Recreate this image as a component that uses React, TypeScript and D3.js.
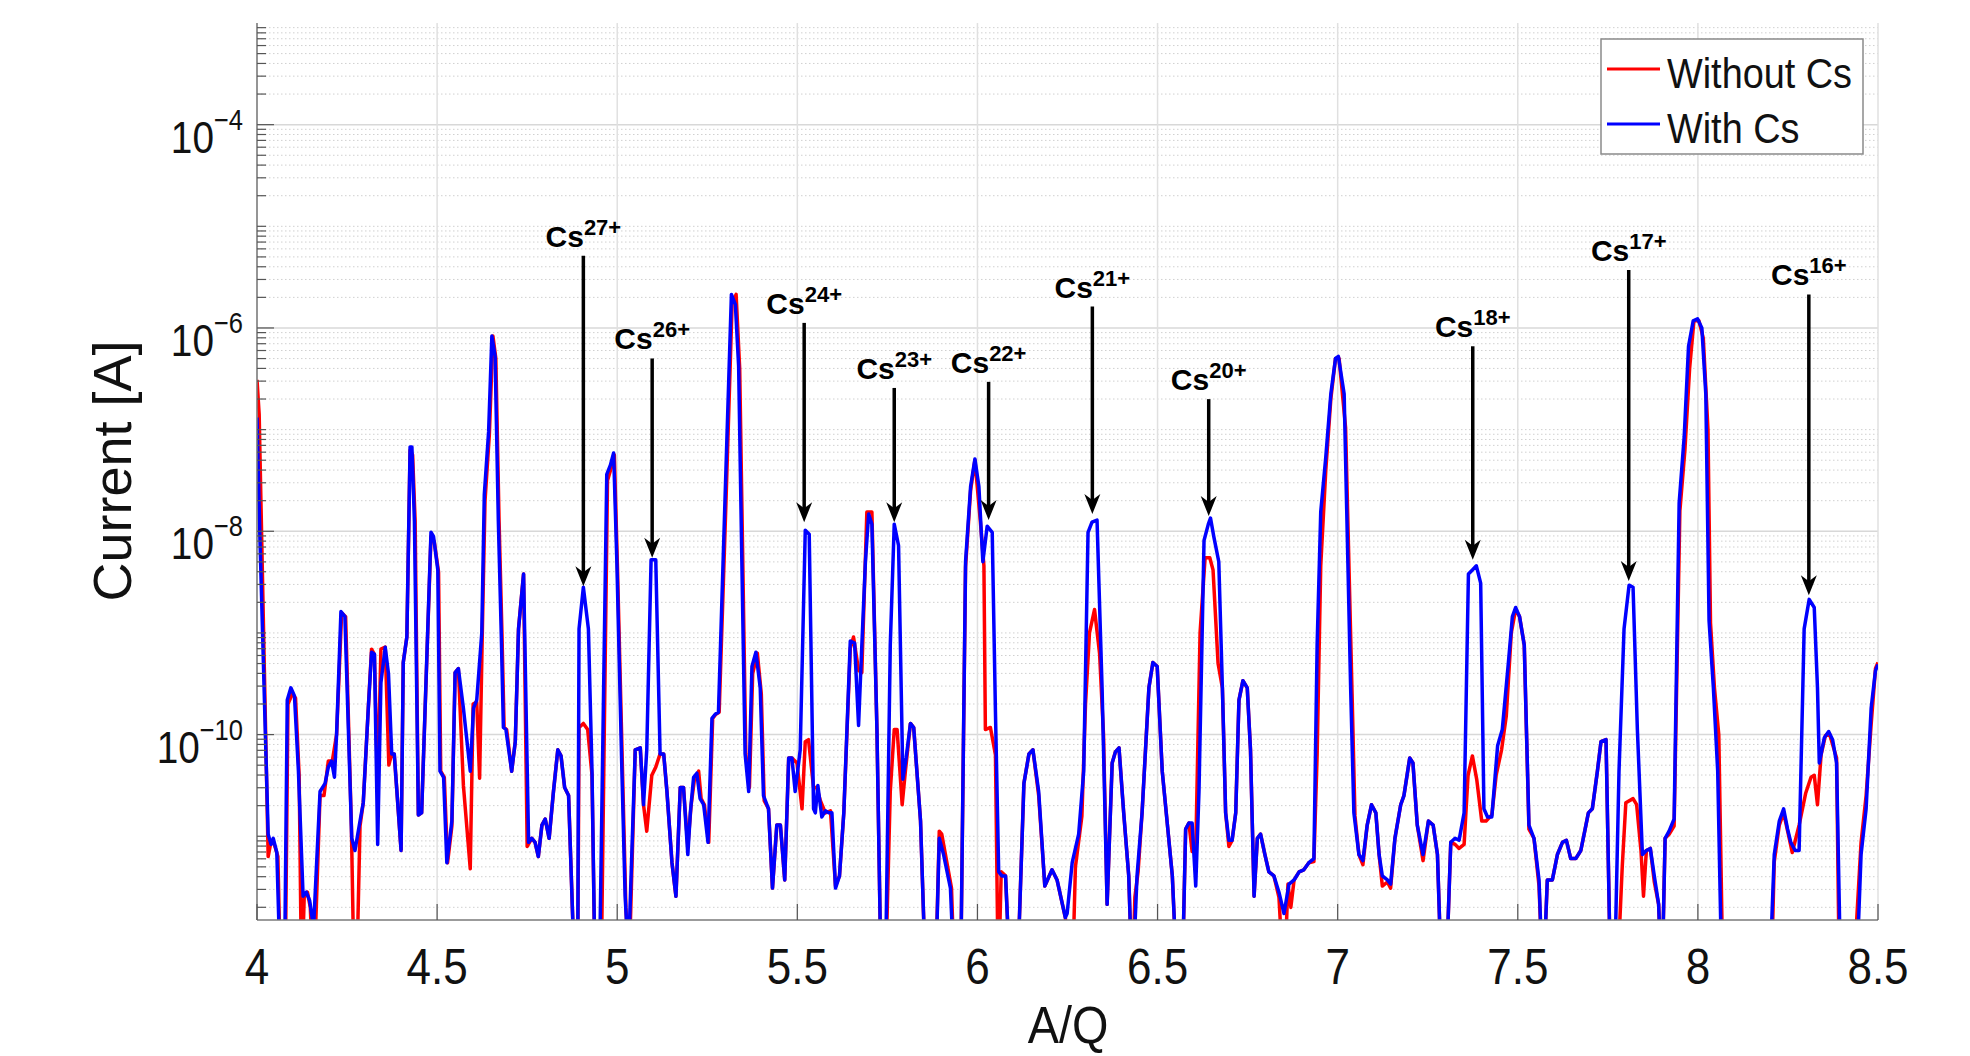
import React from "react";
import * as d3 from "d3";

// A/Q vs log10(current [A])
const withCs: [number, number][] = [
  [4.000,-6.88],[4.008,-8.05],[4.031,-10.98],[4.039,-11.08],[4.045,-11.02],[4.055,-11.16],[4.066,-12.5],[4.076,-12.5],[4.084,-9.66],[4.094,-9.54],[4.104,-9.62],[4.115,-10.36],[4.128,-11.59],[4.137,-11.55],[4.146,-11.63],[4.157,-11.9],[4.175,-10.56],[4.189,-10.48],[4.198,-10.32],[4.207,-10.26],[4.215,-10.42],[4.221,-9.99],[4.233,-8.79],[4.244,-8.84],[4.263,-11.02],[4.272,-11.14],[4.286,-10.85],[4.295,-10.67],[4.309,-9.74],[4.318,-9.19],[4.326,-9.21],[4.335,-11.08],[4.344,-9.49],[4.356,-9.14],[4.365,-9.40],[4.374,-10.19],[4.381,-10.19],[4.400,-11.14],[4.406,-9.29],[4.416,-9.04],[4.425,-7.17],[4.430,-7.17],[4.437,-7.90],[4.448,-10.79],[4.457,-10.77],[4.483,-8.01],[4.490,-8.05],[4.502,-8.38],[4.508,-10.36],[4.518,-10.42],[4.527,-11.26],[4.541,-10.85],[4.550,-9.39],[4.559,-9.35],[4.573,-9.74],[4.592,-10.36],[4.601,-9.74],[4.610,-9.66],[4.624,-9.00],[4.631,-7.64],[4.643,-7.02],[4.652,-6.08],[4.661,-6.28],[4.670,-7.90],[4.678,-9.00],[4.684,-9.93],[4.691,-9.95],[4.707,-10.36],[4.717,-10.07],[4.726,-8.96],[4.740,-8.42],
  [4.754,-11.06],[4.763,-11.02],[4.772,-11.06],[4.781,-11.20],[4.791,-10.89],[4.800,-10.83],[4.811,-11.02],[4.823,-10.56],[4.835,-10.15],[4.844,-10.21],[4.854,-10.52],[4.865,-10.60],[4.883,-12.5],[4.890,-12.5],[4.894,-8.96],[4.906,-8.55],[4.920,-8.96],[4.930,-10.36],[4.939,-12.5],[4.950,-12.5],[4.971,-7.44],[4.981,-7.35],[4.990,-7.23],[4.999,-8.30],[5.013,-10.36],[5.022,-11.59],[5.031,-12.2],[5.050,-10.15],[5.064,-10.13],[5.073,-10.69],[5.082,-10.15],[5.094,-8.28],[5.107,-8.28],[5.119,-10.19],[5.129,-10.19],[5.138,-10.56],[5.152,-11.26],[5.163,-11.59],[5.175,-10.52],[5.184,-10.52],[5.196,-11.18],[5.203,-10.77],[5.212,-10.42],[5.221,-10.38],[5.230,-10.63],[5.240,-10.69],[5.252,-11.06],[5.263,-9.84],[5.272,-9.80],[5.281,-9.78],[5.300,-7.60],[5.317,-5.67],[5.328,-5.77],[5.337,-6.37],[5.346,-8.30],[5.355,-10.19],[5.365,-10.56],[5.374,-9.33],[5.385,-9.19],[5.397,-9.54],[5.406,-10.60],[5.420,-10.73],[5.431,-11.51],[5.443,-10.89],[5.453,-10.89],[5.465,-11.43],[5.476,-10.23],[5.485,-10.23],[5.494,-10.56],
  [5.508,-10.15],[5.522,-7.99],[5.533,-8.03],[5.545,-10.73],[5.550,-10.77],[5.557,-10.50],[5.568,-10.81],[5.578,-10.75],[5.587,-10.77],[5.596,-10.77],[5.606,-11.51],[5.617,-11.39],[5.629,-10.77],[5.647,-9.08],[5.659,-9.10],[5.670,-9.91],[5.678,-9.21],[5.689,-8.30],[5.698,-7.83],[5.707,-7.93],[5.721,-9.95],[5.733,-12.5],[5.744,-12.5],[5.758,-9.12],[5.769,-7.93],[5.781,-8.14],[5.793,-10.44],[5.802,-10.23],[5.814,-9.89],[5.823,-9.93],[5.842,-10.85],[5.857,-12.5],[5.883,-12.5],[5.894,-11.02],[5.906,-11.18],[5.925,-11.51],[5.937,-12.5],[5.953,-12.5],[5.967,-8.30],[5.981,-7.56],[5.993,-7.29],[6.004,-7.56],[6.015,-8.30],[6.027,-7.95],[6.041,-8.01],[6.050,-9.78],[6.059,-11.35],[6.068,-11.39],[6.078,-11.39],[6.092,-12.5],[6.110,-12.5],[6.129,-10.48],[6.143,-10.19],[6.154,-10.15],[6.170,-10.56],[6.187,-11.49],[6.207,-11.33],[6.221,-11.43],[6.244,-11.80],
  [6.249,-11.76],[6.263,-11.26],[6.281,-10.98],[6.295,-10.36],[6.307,-8.01],[6.318,-7.91],[6.332,-7.89],[6.346,-9.54],[6.360,-11.67],[6.374,-10.28],[6.383,-10.17],[6.393,-10.13],[6.406,-10.77],[6.420,-11.39],[6.430,-12.5],[6.443,-11.39],[6.457,-10.77],[6.476,-9.54],[6.487,-9.29],[6.499,-9.33],[6.513,-10.36],[6.541,-11.39],[6.555,-12.5],[6.568,-12.5],[6.578,-10.93],[6.587,-10.87],[6.596,-10.87],[6.606,-11.49],[6.615,-10.56],[6.629,-8.09],[6.641,-7.93],[6.647,-7.87],[6.656,-8.05],[6.670,-8.30],[6.680,-9.54],[6.689,-10.77],[6.698,-11.04],[6.707,-11.04],[6.717,-10.77],[6.726,-9.66],[6.737,-9.47],[6.749,-9.54],[6.758,-10.15],[6.768,-11.59],[6.777,-11.02],[6.786,-10.98],[6.798,-11.18],[6.809,-11.35],[6.823,-11.39],[6.837,-11.55],[6.851,-11.76],[6.865,-11.47],[6.879,-11.43],[6.893,-11.35],[6.906,-11.33],[6.920,-11.26],[6.934,-11.22],[6.943,-9.12],[6.953,-7.81],[6.967,-7.27],[6.981,-6.65],[6.994,-6.30],[7.002,-6.28],
  [7.018,-6.65],[7.036,-9.54],[7.045,-10.77],[7.059,-11.18],[7.070,-11.24],[7.082,-10.89],[7.094,-10.69],[7.106,-10.77],[7.115,-11.18],[7.124,-11.39],[7.138,-11.43],[7.147,-11.47],[7.159,-11.02],[7.175,-10.69],[7.184,-10.60],[7.200,-10.23],[7.209,-10.28],[7.221,-10.89],[7.237,-11.18],[7.252,-10.85],[7.265,-10.89],[7.277,-11.18],[7.289,-12.5],[7.300,-12.5],[7.314,-11.06],[7.326,-11.02],[7.337,-11.04],[7.351,-10.77],[7.363,-8.42],[7.374,-8.38],[7.385,-8.34],[7.397,-8.51],[7.406,-10.73],[7.416,-10.81],[7.428,-10.81],[7.444,-10.11],[7.457,-9.95],[7.474,-9.29],[7.485,-8.84],[7.494,-8.75],[7.505,-8.84],[7.518,-9.12],[7.531,-10.89],[7.545,-11.02],[7.559,-11.43],[7.570,-12.5],[7.582,-11.43],[7.596,-11.43],[7.610,-11.18],[7.624,-11.06],[7.635,-11.04],[7.647,-11.22],[7.661,-11.22],[7.675,-11.14],[7.687,-10.93],[7.696,-10.77],[7.707,-10.73],[7.721,-10.36],[7.731,-10.07],[7.745,-10.05],
  [7.758,-12.5],[7.768,-12.5],[7.781,-10.36],[7.795,-8.96],[7.809,-8.53],[7.820,-8.55],[7.832,-9.95],[7.846,-11.18],[7.857,-11.14],[7.868,-11.12],[7.879,-11.39],[7.891,-11.67],[7.900,-12.5],[7.909,-11.02],[7.920,-10.95],[7.934,-10.83],[7.948,-7.72],[7.962,-7.07],[7.974,-6.18],[7.987,-5.93],[7.999,-5.91],[8.011,-6.00],[8.022,-6.65],[8.031,-8.88],[8.043,-9.54],[8.055,-10.36],[8.067,-12.5],[8.198,-12.5],[8.212,-11.18],[8.226,-10.85],[8.238,-10.73],[8.249,-10.93],[8.258,-11.06],[8.270,-11.14],[8.281,-11.14],[8.295,-8.96],[8.309,-8.67],[8.323,-8.75],[8.332,-9.54],[8.337,-10.28],[8.351,-10.03],[8.363,-9.97],[8.374,-10.05],[8.385,-10.28],[8.397,-12.5],[8.439,-12.5],[8.453,-11.18],[8.467,-10.73],[8.481,-9.74],[8.493,-9.37],[8.500,-9.31]
];

const withoutCs: [number, number][] = [
  [4.000,-6.51],[4.006,-6.85],[4.031,-11.20],[4.039,-11.05],[4.048,-11.08],[4.058,-11.20],[4.066,-12.5],[4.078,-12.5],[4.086,-9.70],[4.098,-9.60],[4.107,-9.64],[4.117,-10.40],[4.124,-12.5],[4.131,-11.60],[4.140,-11.55],[4.148,-11.70],[4.157,-12.5],[4.175,-10.60],[4.186,-10.60],[4.198,-10.26],[4.209,-10.26],[4.221,-10.00],[4.235,-8.80],[4.246,-8.84],[4.262,-10.90],[4.270,-12.5],[4.276,-12.5],[4.286,-10.90],[4.295,-10.67],[4.309,-9.74],[4.318,-9.16],[4.326,-9.21],[4.335,-10.55],[4.344,-9.16],[4.356,-9.14],[4.366,-10.30],[4.374,-10.19],[4.381,-10.19],[4.400,-11.14],[4.406,-9.29],[4.416,-9.04],[4.425,-7.20],[4.432,-7.25],[4.439,-7.90],[4.448,-10.79],[4.457,-10.77],[4.483,-8.05],[4.492,-8.10],[4.504,-8.40],[4.510,-10.36],[4.520,-10.42],[4.529,-11.26],[4.541,-10.90],[4.550,-9.39],[4.559,-9.35],[4.573,-10.50],[4.592,-11.32],[4.600,-9.70],[4.610,-9.68],[4.618,-10.43],[4.626,-8.90],[4.633,-7.70],[4.645,-7.05],[4.655,-6.08],[4.663,-6.30],[4.672,-7.90],[4.680,-9.00],[4.686,-9.93],[4.693,-9.95],[4.707,-10.36],[4.717,-10.07],[4.726,-8.96],[4.740,-8.42],[4.750,-11.10],
  [4.763,-11.02],[4.772,-11.06],[4.781,-11.20],[4.791,-10.89],[4.800,-10.83],[4.811,-11.02],[4.823,-10.56],[4.835,-10.15],[4.844,-10.21],[4.854,-10.52],[4.865,-10.60],[4.883,-12.5],[4.890,-12.5],[4.894,-9.93],[4.906,-9.89],[4.918,-9.95],[4.930,-10.40],[4.939,-12.5],[4.955,-12.5],[4.973,-7.50],[4.983,-7.38],[4.992,-7.25],[5.001,-8.40],[5.015,-10.40],[5.024,-11.70],[5.033,-12.3],[5.050,-10.15],[5.064,-10.13],[5.073,-10.69],[5.082,-10.95],[5.096,-10.40],[5.107,-10.32],[5.119,-10.19],[5.129,-10.19],[5.138,-10.56],[5.152,-11.26],[5.163,-11.59],[5.175,-10.52],[5.184,-10.52],[5.196,-11.10],[5.205,-10.70],[5.214,-10.45],[5.226,-10.36],[5.233,-10.63],[5.242,-10.69],[5.254,-11.06],[5.265,-9.84],[5.274,-9.80],[5.283,-9.78],[5.302,-7.70],[5.319,-5.75],[5.330,-5.67],[5.340,-6.40],[5.349,-8.40],[5.357,-10.19],[5.367,-10.52],[5.376,-9.40],[5.389,-9.20],[5.400,-9.60],[5.408,-10.65],[5.420,-10.73],[5.431,-11.51],[5.443,-10.89],[5.453,-10.89],[5.465,-11.43],[5.476,-10.23],[5.485,-10.23],
  [5.499,-10.28],[5.513,-10.73],[5.522,-10.07],[5.531,-10.05],[5.545,-10.52],[5.554,-10.52],[5.564,-10.65],[5.578,-10.77],[5.592,-10.75],[5.606,-11.49],[5.617,-11.39],[5.629,-10.77],[5.647,-9.15],[5.656,-9.04],[5.670,-9.37],[5.679,-9.39],[5.693,-7.81],[5.707,-7.81],[5.721,-9.95],[5.733,-12.5],[5.744,-12.5],[5.758,-10.56],[5.769,-9.95],[5.777,-9.95],[5.791,-10.69],[5.800,-10.36],[5.814,-9.89],[5.823,-9.93],[5.842,-10.85],[5.857,-12.5],[5.883,-12.5],[5.894,-10.95],[5.901,-10.98],[5.928,-11.51],[5.937,-12.5],[5.953,-12.5],[5.967,-8.35],[5.981,-7.60],[5.993,-7.30],[6.008,-7.90],[6.018,-8.34],[6.022,-9.95],[6.036,-9.93],[6.050,-10.20],[6.058,-12.5],[6.066,-11.35],[6.078,-11.39],[6.092,-12.5],[6.110,-12.5],[6.129,-10.48],[6.143,-10.19],[6.154,-10.15],[6.170,-10.60],[6.187,-11.49],[6.207,-11.33],[6.221,-11.43],[6.244,-11.80],
  [6.263,-12.5],[6.272,-11.30],[6.290,-10.80],[6.300,-9.70],[6.311,-9.00],[6.325,-8.77],[6.339,-9.20],[6.350,-10.00],[6.360,-11.67],[6.374,-10.28],[6.383,-10.17],[6.393,-10.13],[6.406,-10.77],[6.420,-11.39],[6.430,-12.5],[6.437,-11.60],[6.446,-11.35],[6.457,-10.77],[6.476,-9.54],[6.487,-9.29],[6.499,-9.33],[6.513,-10.36],[6.541,-11.39],[6.555,-12.5],[6.568,-12.5],[6.578,-10.93],[6.587,-10.87],[6.596,-11.15],[6.606,-11.15],[6.618,-9.00],[6.632,-8.26],[6.645,-8.26],[6.654,-8.38],[6.668,-9.30],[6.680,-9.54],[6.689,-10.77],[6.698,-11.10],[6.707,-11.04],[6.717,-10.77],[6.726,-9.66],[6.737,-9.47],[6.749,-9.54],[6.758,-10.15],[6.768,-11.59],[6.777,-11.02],[6.786,-10.98],[6.798,-11.18],[6.809,-11.35],[6.823,-11.39],[6.837,-11.60],[6.851,-12.5],[6.862,-11.47],[6.870,-11.70],[6.879,-11.43],[6.893,-11.35],[6.906,-11.33],[6.920,-11.26],[6.934,-11.25],[6.943,-10.20],[6.953,-8.34],[6.967,-7.40],[6.981,-6.70],[6.994,-6.30],[7.004,-6.30],
  [7.022,-6.98],[7.040,-9.60],[7.048,-10.80],[7.059,-11.18],[7.070,-11.28],[7.082,-10.89],[7.094,-10.69],[7.106,-10.77],[7.115,-11.18],[7.124,-11.49],[7.138,-11.45],[7.147,-11.51],[7.159,-11.02],[7.175,-10.69],[7.184,-10.60],[7.200,-10.23],[7.209,-10.28],[7.221,-10.89],[7.237,-11.24],[7.252,-10.85],[7.265,-10.89],[7.277,-11.18],[7.289,-12.5],[7.300,-12.5],[7.314,-11.06],[7.326,-11.08],[7.337,-11.12],[7.351,-11.08],[7.362,-10.40],[7.374,-10.21],[7.386,-10.44],[7.400,-10.85],[7.412,-10.85],[7.428,-10.79],[7.440,-10.40],[7.455,-10.15],[7.468,-9.82],[7.482,-9.00],[7.494,-8.77],[7.505,-8.84],[7.518,-9.12],[7.531,-10.93],[7.545,-11.02],[7.559,-11.49],[7.570,-12.5],[7.582,-11.43],[7.596,-11.43],[7.610,-11.18],[7.624,-11.06],[7.635,-11.04],[7.647,-11.22],[7.661,-11.22],[7.675,-11.14],[7.687,-10.93],[7.696,-10.77],[7.707,-10.73],[7.721,-10.36],[7.731,-10.07],[7.745,-10.05],
  [7.758,-12.5],[7.775,-12.5],[7.790,-11.30],[7.800,-10.67],[7.820,-10.63],[7.830,-10.69],[7.842,-11.14],[7.849,-11.59],[7.857,-11.14],[7.868,-11.12],[7.879,-11.45],[7.891,-11.67],[7.900,-12.5],[7.909,-11.02],[7.920,-10.98],[7.934,-10.90],[7.950,-7.80],[7.964,-7.20],[7.977,-6.40],[7.989,-5.93],[8.003,-5.93],[8.015,-6.10],[8.028,-7.00],[8.035,-8.90],[8.046,-9.54],[8.058,-10.00],[8.070,-12.5],[8.203,-12.5],[8.212,-11.25],[8.226,-10.89],[8.238,-10.77],[8.251,-10.98],[8.262,-11.16],[8.281,-10.89],[8.299,-10.58],[8.314,-10.42],[8.323,-10.40],[8.332,-10.69],[8.342,-10.20],[8.354,-10.01],[8.365,-9.99],[8.385,-10.23],[8.393,-12.5],[8.430,-12.5],[8.453,-11.06],[8.467,-10.60],[8.481,-9.90],[8.493,-9.35],[8.500,-9.29]
];

const xTicks = [4, 4.5, 5, 5.5, 6, 6.5, 7, 7.5, 8, 8.5];
const yLabelExps = [-4, -6, -8, -10];

// Cs charge-state annotations
const ionCharges = [27, 26, 24, 23, 22, 21, 20, 18, 17, 16];
const ionAQ = [4.906, 5.097, 5.519, 5.769, 6.031, 6.319, 6.642, 7.375, 7.808, 8.308];
const arrowTopLog = [-5.29, -6.30, -5.95, -6.59, -6.53, -5.79, -6.70, -6.18, -5.43, -5.67];
const arrowTipLog = [-8.54, -8.26, -7.91, -7.91, -7.89, -7.83, -7.85, -8.28, -8.49, -8.63];

const seriesNames = ["Without Cs", "With Cs"];
const seriesColors = ["#ff0000", "#0000ff"];

const FONT = "'Liberation Sans', Arial, sans-serif";

function SText(props: { x: number; y: number; sx: number; size: number; anchor?: string; rotate?: number; children: React.ReactNode }) {
  const { x, y, sx, size, anchor, rotate, children } = props;
  const tf = `translate(${x},${y})` + (rotate ? ` rotate(${rotate})` : "") + ` scale(${sx},1)`;
  return (
    <text transform={tf} textAnchor={anchor || "start"} fontFamily={FONT} fontSize={size} fill="#111">
      {children}
    </text>
  );
}

export default function App() {
  const W = 1970, H = 1056;
  const L = 257, R = 1878, T = 23, B = 920;
  const x = d3.scaleLinear().domain([4, 8.5]).range([L, R]);
  const y = d3.scaleLog().domain([1.5e-12, 1e-3]).range([B, T]);
  const line = d3.line<[number, number]>().x(d => x(d[0])).y(d => y(Math.pow(10, d[1])));

  const minor: number[] = [];
  for (let e = -12; e <= -4; e++) {
    for (let k = 1; k <= 9; k++) {
      const v = k * Math.pow(10, e);
      if (v < 1.5e-12 || v > 1.0001e-3) continue;
      if (k === 1 && yLabelExps.includes(e)) continue;
      minor.push(v);
    }
  }
  const majors = yLabelExps.map(e => Math.pow(10, e));

  return (
    <svg width={W} height={H} style={{ display: "block", position: "absolute", left: 0, top: 0, background: "#fff" }}>
      <defs>
        <clipPath id="plot"><rect x={L} y={T} width={R - L} height={B - T} /></clipPath>
      </defs>
      <rect x={0} y={0} width={W} height={H} fill="#fff" />
      {minor.map((v, i) => (
        <line key={"mg" + i} x1={L} x2={R} y1={y(v)} y2={y(v)} stroke="#d0d0d0" strokeWidth={1} strokeDasharray="1.5 2.5" />
      ))}
      {majors.map((v, i) => (
        <line key={"Mg" + i} x1={L} x2={R} y1={y(v)} y2={y(v)} stroke="#d8d8d8" strokeWidth={1.5} />
      ))}
      {xTicks.map((t, i) => (
        <line key={"xg" + i} x1={x(t)} x2={x(t)} y1={T} y2={B} stroke="#e0e0e0" strokeWidth={1.5} />
      ))}
      <g clipPath="url(#plot)" fill="none" strokeWidth={3.5} strokeLinejoin="round">
        <path d={line(withoutCs) || ""} stroke={seriesColors[0]} />
        <path d={line(withCs) || ""} stroke={seriesColors[1]} />
      </g>
      <line x1={L} x2={L} y1={T} y2={B} stroke="#7a7a7a" strokeWidth={1.5} />
      <line x1={L} x2={R} y1={B} y2={B} stroke="#7a7a7a" strokeWidth={1.5} />
      {minor.map((v, i) => (
        <line key={"mt" + i} x1={L} x2={L + 9} y1={y(v)} y2={y(v)} stroke="#555" strokeWidth={1.2} />
      ))}
      {majors.map((v, i) => (
        <line key={"Mt" + i} x1={L} x2={L + 17} y1={y(v)} y2={y(v)} stroke="#555" strokeWidth={1.2} />
      ))}
      {xTicks.map((t, i) => (
        <line key={"xt" + i} x1={x(t)} x2={x(t)} y1={B} y2={B - 16} stroke="#555" strokeWidth={1.2} />
      ))}
      {yLabelExps.map((e, i) => (
        <SText key={"yl" + i} x={243} y={y(Math.pow(10, e)) + 28} sx={0.88} size={44} anchor="end">
          10<tspan dy={-23} fontSize={29}>{"\u2212" + Math.abs(e)}</tspan>
        </SText>
      ))}
      {xTicks.map((t, i) => (
        <SText key={"xl" + i} x={x(t)} y={984} sx={0.88} size={50} anchor="middle">{String(t)}</SText>
      ))}
      <SText x={1068} y={1043} sx={0.9} size={52} anchor="middle">A/Q</SText>
      <SText x={131} y={471} rotate={-90} sx={1} size={54} anchor="middle">Current [A]</SText>
      {ionCharges.map((q, i) => {
        const ax = x(ionAQ[i]);
        const top = y(Math.pow(10, arrowTopLog[i]));
        const tip = y(Math.pow(10, arrowTipLog[i]));
        return (
          <g key={"an" + i}>
            <line x1={ax} x2={ax} y1={top} y2={tip - 12} stroke="#000" strokeWidth={3.5} />
            <polygon points={`${ax},${tip} ${ax - 8},${tip - 20} ${ax},${tip - 14} ${ax + 8},${tip - 20}`} fill="#000" />
            <text x={ax} y={top - 9} textAnchor="middle" fontFamily={FONT} fontWeight="bold" fontSize={30} fill="#000">
              Cs<tspan dy={-12} fontSize={22}>{q + "+"}</tspan>
            </text>
          </g>
        );
      })}
      <rect x={1601} y={39} width={262} height={115} fill="#fff" stroke="#8a8a8a" strokeWidth={1.5} />
      {seriesNames.map((n, i) => (
        <g key={"lg" + i}>
          <line x1={1607} x2={1660} y1={69 + i * 55} y2={69 + i * 55} stroke={seriesColors[i]} strokeWidth={3} />
          <SText x={1667} y={88 + i * 55} sx={0.88} size={43}>{n}</SText>
        </g>
      ))}
    </svg>
  );
}
